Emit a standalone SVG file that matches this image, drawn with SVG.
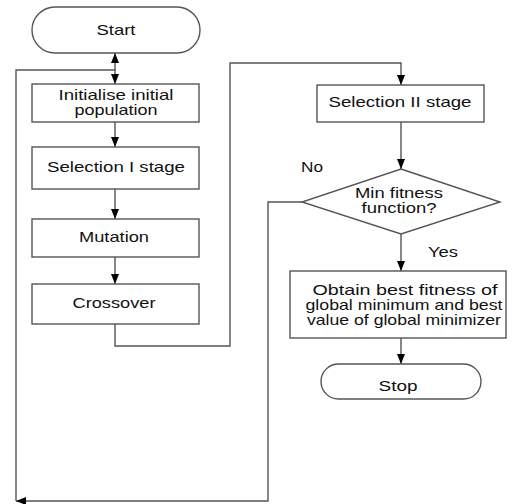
<svg xmlns="http://www.w3.org/2000/svg" width="514" height="504" viewBox="0 0 514 504">
<style>
.box{fill:#fff;stroke:#555;stroke-width:1.4}
.ln{fill:none;stroke:#555;stroke-width:1.4}
.t{font-family:"Liberation Sans",Arial,sans-serif;font-size:14.5px;fill:#111;text-anchor:middle}
</style>
<defs>
<marker id="ah" viewBox="0 0 10 8" refX="10" refY="4" markerWidth="10" markerHeight="8" orient="auto" markerUnits="userSpaceOnUse">
<path d="M0,0 L10,4 L0,8 z" fill="#000"/>
</marker>
</defs>
<rect width="514" height="504" fill="#fff"/>
<g id="connectors">
<path class="ln" d="M115,70 V53" marker-end="url(#ah)"/>
<path class="ln" d="M302,202 H268 V501 H16" marker-end="url(#ah)"/>
<path class="ln" d="M16,501 V70 H115 V84" marker-end="url(#ah)"/>
<path class="ln" d="M115,122 V147" marker-end="url(#ah)"/>
<path class="ln" d="M115,189 V219" marker-end="url(#ah)"/>
<path class="ln" d="M115,257 V284" marker-end="url(#ah)"/>
<path class="ln" d="M115,324 V346 H230 V63 H401 V85" marker-end="url(#ah)"/>
<path class="ln" d="M401,122 V169" marker-end="url(#ah)"/>
<path class="ln" d="M401,234 V271" marker-end="url(#ah)"/>
<path class="ln" d="M401,338 V364" marker-end="url(#ah)"/>
<text class="t" x="312" y="172" textLength="22" lengthAdjust="spacingAndGlyphs">No</text>
<text class="t" x="443" y="257" textLength="30" lengthAdjust="spacingAndGlyphs">Yes</text>
</g>
<g id="start">
<rect class="box" x="32" y="7" width="168" height="46" rx="23" ry="23"/>
<text class="t" x="116" y="35" textLength="39" lengthAdjust="spacingAndGlyphs">Start</text>
</g>
<g id="init">
<rect class="box" x="32" y="84" width="167" height="38"/>
<text class="t" x="116" y="100" textLength="115" lengthAdjust="spacingAndGlyphs">Initialise initial</text>
<text class="t" x="116" y="115" textLength="83" lengthAdjust="spacingAndGlyphs">population</text>
</g>
<g id="sel1">
<rect class="box" x="32" y="147" width="167" height="42"/>
<text class="t" x="116" y="172" textLength="138" lengthAdjust="spacingAndGlyphs">Selection I stage</text>
</g>
<g id="mutation">
<rect class="box" x="32" y="219" width="167" height="38"/>
<text class="t" x="114" y="242" textLength="70" lengthAdjust="spacingAndGlyphs">Mutation</text>
</g>
<g id="crossover">
<rect class="box" x="32" y="284" width="167" height="40"/>
<text class="t" x="114" y="308" textLength="83" lengthAdjust="spacingAndGlyphs">Crossover</text>
</g>
<g id="sel2">
<rect class="box" x="317" y="85" width="167" height="37"/>
<text class="t" x="400" y="107" textLength="143" lengthAdjust="spacingAndGlyphs">Selection II stage</text>
</g>
<g id="decision">
<polygon class="box" points="401,169 500,202 401,234 302,202"/>
<text class="t" x="399" y="198" textLength="88" lengthAdjust="spacingAndGlyphs">Min fitness</text>
<text class="t" x="399" y="213" textLength="75" lengthAdjust="spacingAndGlyphs">function?</text>
</g>
<g id="obtain">
<rect class="box" x="290" y="271" width="216" height="67"/>
<text class="t" x="405" y="295" textLength="185" lengthAdjust="spacingAndGlyphs">Obtain best fitness of</text>
<text class="t" x="404" y="310" textLength="197" lengthAdjust="spacingAndGlyphs">global minimum and best</text>
<text class="t" x="404" y="325" textLength="194" lengthAdjust="spacingAndGlyphs">value of global minimizer</text>
</g>
<g id="stop">
<rect class="box" x="321" y="364" width="160" height="35" rx="17.5" ry="17.5"/>
<text class="t" x="398" y="391" textLength="39" lengthAdjust="spacingAndGlyphs">Stop</text>
</g>
</svg>
